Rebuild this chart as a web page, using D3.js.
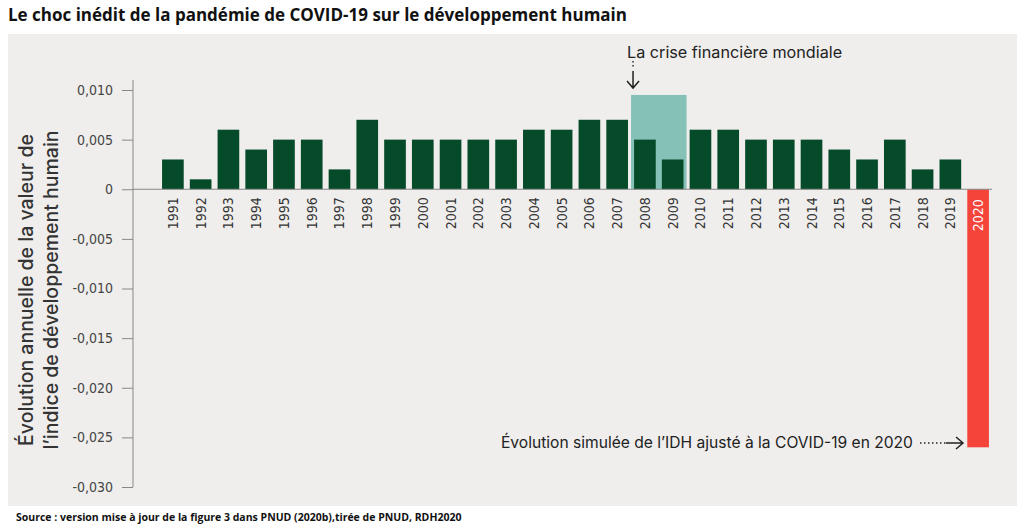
<!DOCTYPE html>
<html>
<head>
<meta charset="utf-8">
<script src="https://cdn.jsdelivr.net/npm/d3@7"></script>
<style>
  body { margin: 0; background: #fff; }
  svg { display: block; }
</style>
</head>
<body>
<div id="chart"></div>
<script>
const years = d3.range(1991, 2021).map(String);
const values = [0.003, 0.001, 0.006, 0.004, 0.005, 0.005, 0.002, 0.007, 0.005, 0.005,
  0.005, 0.005, 0.005, 0.006, 0.006, 0.007, 0.007, 0.005, 0.003, 0.006,
  0.006, 0.005, 0.005, 0.005, 0.004, 0.003, 0.005, 0.002, 0.003, -0.026];
const yTicks = [0.010, 0.005, 0, -0.005, -0.010, -0.015, -0.020, -0.025, -0.030];
const crisisYears = ["2008", "2009"];
const crisisTop = 0.0095;

const width = 1024, height = 527;
const svg = d3.select("#chart").append("svg")
  .attr("width", width).attr("height", height);

// panneau gris
svg.append("rect").attr("x", 8).attr("y", 34).attr("width", 1009).attr("height", 472)
  .attr("fill", "#efeeed");

svg.append("text").attr("x", 8).attr("y", 21)
  .style("font-family", "'Open Sans', sans-serif").style("font-weight", "bold")
  .style("font-size", "17px").attr("fill", "#111")
  .text("Le choc inédit de la pandémie de COVID-19 sur le développement humain");

svg.append("text").attr("x", 16).attr("y", 521)
  .style("font-family", "'Open Sans', sans-serif").style("font-weight", "bold")
  .style("font-size", "10.5px").attr("fill", "#111")
  .text("Source : version mise à jour de la figure 3 dans PNUD (2020b),tirée de PNUD, RDH2020");

const x = d3.scaleBand().domain(years).range([159, 992]).padding(0.22).paddingOuter(0.11);
const y = d3.scaleLinear().domain([-0.030, 0.010]).range([487, 90]);

const fmt = d => d === 0 ? "0" : d3.format(".3f")(d).replace(".", ",").replace("−", "-");

// axe y
const yAxis = svg.append("g").attr("transform", "translate(133,0)")
  .call(d3.axisLeft(y).tickValues(yTicks).tickFormat(fmt).tickSize(11).tickPadding(9));
yAxis.select(".domain").attr("d", `M0,80V${y(-0.030)}`).attr("stroke", "#888");
yAxis.selectAll(".tick line").attr("stroke", "#888");
yAxis.selectAll("text")
  .style("font-family", "'Liberation Sans Narrow', 'DejaVu Sans Condensed', sans-serif")
  .style("font-size", "14px").attr("fill", "#444");

// titre de l'axe
const yt = svg.append("text").attr("transform", "translate(0,290) rotate(-90)")
  .style("font-family", "Inter, sans-serif").style("font-size", "19.5px")
  .style("font-weight", 500)
  .attr("fill", "#333").attr("text-anchor", "middle");
yt.append("tspan").attr("x", 0).attr("y", 33).text("Évolution annuelle de la valeur de");
yt.append("tspan").attr("x", 0).attr("y", 58).text("l’indice de développement humain");

// zone crise
const cx0 = x(crisisYears[0]) - x.step() * x.paddingInner() / 2;
const cx1 = x(crisisYears[1]) + x.bandwidth() + x.step() * x.paddingInner() / 2;
svg.append("rect").attr("x", cx0).attr("y", y(crisisTop))
  .attr("width", cx1 - cx0).attr("height", y(0) - y(crisisTop))
  .attr("fill", "#86c1b7");

// barres
svg.selectAll("rect.bar").data(values).join("rect").attr("class", "bar")
  .attr("x", (d, i) => x(years[i]))
  .attr("y", d => y(Math.max(0, d)))
  .attr("width", x.bandwidth())
  .attr("height", d => Math.abs(y(d) - y(0)))
  .attr("fill", (d, i) => years[i] === "2020" ? "#f5443a" : "#054a29");

// ligne de base
svg.append("line").attr("x1", 133).attr("x2", 992).attr("y1", y(0)).attr("y2", y(0))
  .attr("stroke", "#888");

// libellés années
svg.selectAll("text.yr").data(years).join("text").attr("class", "yr")
  .attr("transform", d => `translate(${x(d) + x.bandwidth() / 2 + 5},${y(0) + (d === "2020" ? 10 : 8)}) rotate(-90)`)
  .attr("text-anchor", "end")
  .style("font-family", "'Liberation Sans Narrow', 'DejaVu Sans Condensed', sans-serif")
  .style("font-size", "14px")
  .attr("fill", d => d === "2020" ? "#fff" : "#333")
  .text(d => d);

// annotation crise
const ax = cx0 + 2;
svg.append("text").attr("x", 627).attr("y", 58)
  .style("font-family", "Inter, sans-serif").style("font-size", "16.2px").attr("fill", "#222")
  .text("La crise financière mondiale");
svg.append("line").attr("x1", ax).attr("x2", ax).attr("y1", 61).attr("y2", 68)
  .attr("stroke", "#222").attr("stroke-width", 1.4).attr("stroke-dasharray", "1.4,2.6");
svg.append("path").attr("d", `M${ax - 6},${81}L${ax},${88}L${ax + 6},${81}M${ax},71V88`)
  .attr("fill", "none").attr("stroke", "#222").attr("stroke-width", 1.5);

// annotation 2020
const ay = 443;
svg.append("text").attr("x", 501).attr("y", ay + 5)
  .style("font-family", "Inter, sans-serif").style("font-size", "15.6px").attr("fill", "#222")
  .text("Évolution simulée de l’IDH ajusté à la COVID-19 en 2020");
svg.append("line").attr("x1", 920).attr("x2", 946).attr("y1", ay).attr("y2", ay)
  .attr("stroke", "#222").attr("stroke-width", 1.3).attr("stroke-dasharray", "1.5,2.5");
svg.append("path").attr("d", `M946,${ay}H963M956,${ay - 6}L963,${ay}L956,${ay + 6}`)
  .attr("fill", "none").attr("stroke", "#222").attr("stroke-width", 1.5);
</script>
</body>
</html>
